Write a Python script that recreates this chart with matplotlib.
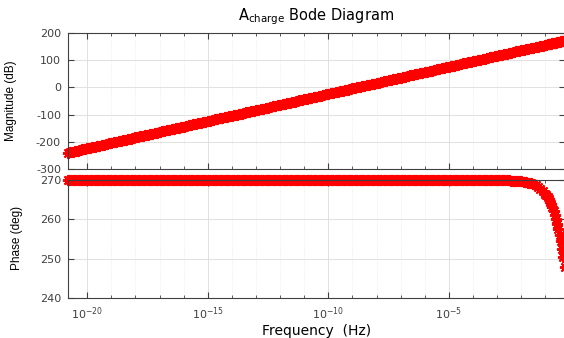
import matplotlib
matplotlib.use("Agg")
import matplotlib.pyplot as plt
from matplotlib.ticker import NullFormatter, FixedLocator

plt.rcParams['axes.unicode_minus'] = False

# log10 of frequency (Hz) for every response sample
log_freq = [
    -20.8, -20.7, -20.6, -20.5, -20.4, -20.3, -20.2, -20.1,
    -20.0, -19.9, -19.8, -19.7, -19.6, -19.5, -19.4, -19.3, -19.2, -19.1,
    -19.0, -18.9, -18.8, -18.7, -18.6, -18.5, -18.4, -18.3, -18.2, -18.1,
    -18.0, -17.9, -17.8, -17.7, -17.6, -17.5, -17.4, -17.3, -17.2, -17.1,
    -17.0, -16.9, -16.8, -16.7, -16.6, -16.5, -16.4, -16.3, -16.2, -16.1,
    -16.0, -15.9, -15.8, -15.7, -15.6, -15.5, -15.4, -15.3, -15.2, -15.1,
    -15.0, -14.9, -14.8, -14.7, -14.6, -14.5, -14.4, -14.3, -14.2, -14.1,
    -14.0, -13.9, -13.8, -13.7, -13.6, -13.5, -13.4, -13.3, -13.2, -13.1,
    -13.0, -12.9, -12.8, -12.7, -12.6, -12.5, -12.4, -12.3, -12.2, -12.1,
    -12.0, -11.9, -11.8, -11.7, -11.6, -11.5, -11.4, -11.3, -11.2, -11.1,
    -11.0, -10.9, -10.8, -10.7, -10.6, -10.5, -10.4, -10.3, -10.2, -10.1,
    -10.0, -9.9, -9.8, -9.7, -9.6, -9.5, -9.4, -9.3, -9.2, -9.1,
    -9.0, -8.9, -8.8, -8.7, -8.6, -8.5, -8.4, -8.3, -8.2, -8.1,
    -8.0, -7.9, -7.8, -7.7, -7.6, -7.5, -7.4, -7.3, -7.2, -7.1,
    -7.0, -6.9, -6.8, -6.7, -6.6, -6.5, -6.4, -6.3, -6.2, -6.1,
    -6.0, -5.9, -5.8, -5.7, -5.6, -5.5, -5.4, -5.3, -5.2, -5.1,
    -5.0, -4.9, -4.8, -4.7, -4.6, -4.5, -4.4, -4.3, -4.2, -4.1,
    -4.0, -3.9, -3.8, -3.7, -3.6, -3.5, -3.4, -3.3, -3.2, -3.1,
    -3.0, -2.9, -2.8, -2.7, -2.6, -2.5, -2.4, -2.3, -2.2, -2.1,
    -2.0, -1.9, -1.8, -1.7, -1.6, -1.5, -1.4, -1.3, -1.2, -1.1,
    -1.0, -0.95, -0.9, -0.85, -0.8, -0.75, -0.7, -0.65, -0.6, -0.55,
    -0.5, -0.45, -0.4, -0.35, -0.3, -0.25, -0.2,
]

magnitude_db = [
    -240, -238, -236, -234, -232, -230, -228, -226,
    -224, -222, -220, -218, -216, -214, -212, -210, -208, -206,
    -204, -202, -200, -198, -196, -194, -192, -190, -188, -186,
    -184, -182, -180, -178, -176, -174, -172, -170, -168, -166,
    -164, -162, -160, -158, -156, -154, -152, -150, -148, -146,
    -144, -142, -140, -138, -136, -134, -132, -130, -128, -126,
    -124, -122, -120, -118, -116, -114, -112, -110, -108, -106,
    -104, -102, -100, -98, -96, -94, -92, -90, -88, -86,
    -84, -82, -80, -78, -76, -74, -72, -70, -68, -66,
    -64, -62, -60, -58, -56, -54, -52, -50, -48, -46,
    -44, -42, -40, -38, -36, -34, -32, -30, -28, -26,
    -24, -22, -20, -18, -16, -14, -12, -10, -8, -6,
    -4, -2, 0, 2, 4, 6, 8, 10, 12, 14,
    16, 18, 20, 22, 24, 26, 28, 30, 32, 34,
    36, 38, 40, 42, 44, 46, 48, 50, 52, 54,
    56, 58, 60, 62, 64, 66, 68, 70, 72, 74,
    76, 78, 80, 82, 84, 86, 88, 90, 92, 94,
    96, 98, 100, 102, 104, 106, 108, 110, 112, 114,
    116, 118, 120, 122, 124, 126, 128, 130, 132, 134,
    136, 138, 140, 142, 144, 146, 148, 150, 152, 154,
    156, 157, 158, 159, 160, 161, 162, 163, 164, 165,
    166, 167, 168, 169, 170, 171, 172,
]

# flat at 270 deg up to 1e-3 Hz, then rolls off
phase_deg = [270.0] * 178 + [
    269.97, 269.96, 269.94, 269.93, 269.91, 269.89, 269.86, 269.82, 269.78, 269.72,
    269.65, 269.56, 269.45, 269.30, 269.12, 268.89, 268.61, 268.25, 267.79, 267.22,
    266.50, 266.07, 265.59, 265.06, 264.45, 263.78, 263.02, 262.16, 261.21, 260.13,
    258.93, 257.58, 256.07, 254.37, 252.46, 250.32, 247.92,
]

freq = [10 ** v for v in log_freq]

mag_ticks = [-300, -200, -100, 0, 100, 200]
phase_ticks = [240, 250, 260, 270]
freq_major = [1e-20, 1e-15, 1e-10, 1e-5]
freq_minor = [10.0 ** k for k in range(-21, 1)]

axis_col = '#404040'
W, H = 564, 338

fig = plt.figure(figsize=(W / 100, H / 100), dpi=100)
ax1 = fig.add_axes([68 / W, 1 - 169 / H, 497 / W, 136 / H])
ax2 = fig.add_axes([68 / W, 1 - 298 / H, 497 / W, 118 / H])

marker = dict(linestyle='none', marker=(8, 2, 0), markersize=8,
              markeredgewidth=1.4, color='#ff0000', clip_on=False)
ax1.plot(freq, magnitude_db, **marker)
ax2.plot(freq, phase_deg, **marker)

for ax in (ax1, ax2):
    ax.set_xscale('log')
    ax.set_xlim(10 ** -20.8, 10 ** -0.18)
    ax.xaxis.set_major_locator(FixedLocator(freq_major))
    ax.xaxis.set_minor_locator(FixedLocator(freq_minor))
    ax.xaxis.set_minor_formatter(NullFormatter())
    ax.tick_params(which='both', direction='in', top=True, right=True,
                   colors=axis_col, labelsize=8, pad=5)
    ax.tick_params(which='major', length=4, width=0.8)
    ax.tick_params(which='minor', length=2.5, width=0.6)
    ax.grid(True, which='major', color='#dcdcdc', linewidth=0.6)
    ax.grid(True, which='minor', axis='x', color='#e4e4e4',
            linewidth=0.5, linestyle=':')
    ax.set_axisbelow(True)
    for s in ax.spines.values():
        s.set_color(axis_col)
        s.set_linewidth(0.8)

ax1.set_ylim(-300, 200)
ax1.set_yticks(mag_ticks)
ax1.tick_params(labelbottom=False)
ax1.set_ylabel('Magnitude (dB)', fontsize=8.5, family='Liberation Sans')
ax1.yaxis.set_label_coords(-0.102, 0.5)
ax1.set_title(r'A$_{\mathregular{charge}}$ Bode Diagram', fontsize=10.5, pad=9)

ax2.set_ylim(240, 270)
ax2.set_yticks(phase_ticks)
ax2.set_ylabel('Phase (deg)', fontsize=8.5, family='Liberation Sans')
ax2.yaxis.set_label_coords(-0.09, 0.51)
ax2.set_xlabel('Frequency  (Hz)', fontsize=10, labelpad=2)

fig.savefig('out.png', dpi=100, facecolor='white')
